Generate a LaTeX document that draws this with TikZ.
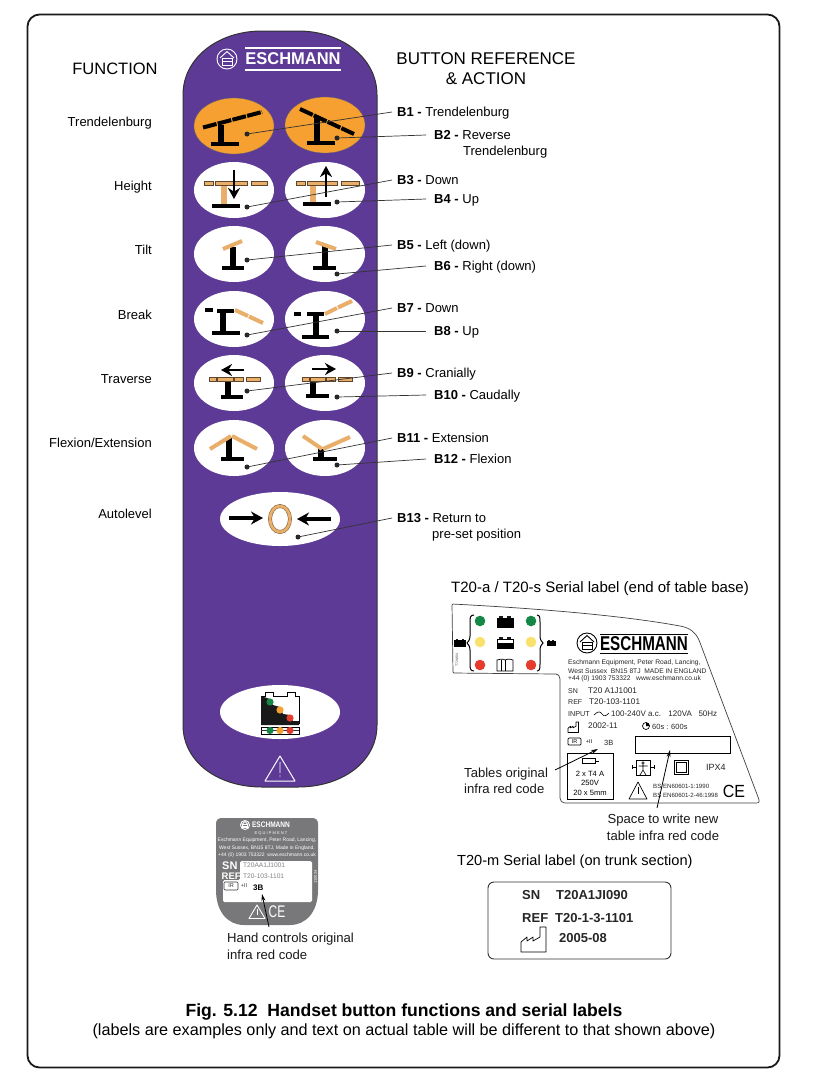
\documentclass[tikz,border=0pt]{standalone}
\usepackage{fontspec}
\setmainfont{Liberation Sans}
\usetikzlibrary{arrows.meta,calc}
\definecolor{panel}{RGB}{93,58,150}
\definecolor{orng}{RGB}{245,160,48}
\definecolor{tan}{RGB}{232,174,106}
\definecolor{lblgrey}{RGB}{120,120,122}
\definecolor{grn}{RGB}{20,135,70}
\definecolor{yel}{RGB}{250,225,110}
\definecolor{rd}{RGB}{230,60,45}
\newcommand{\fs}[1]{\fontsize{#1}{#1}\selectfont}
\tikzset{
 x=1pt,y=-1pt,
 btn/.style={draw=none,fill=white},
 blk/.style={draw=black,line width=4pt},
 stem/.style={draw=black,line width=6pt},
 tanbar/.style={draw=tan,line width=4pt},
 lead/.style={draw=black!80,line width=.7pt},
 ptr/.style={draw=black,line width=.8pt,-{Stealth[length=7pt,width=4pt]}},
 dot/.style={fill=black!85,draw=none},
 llab/.style={font=\fs{13},anchor=west,inner ysep=0pt,inner xsep=5pt,text height=11pt,text depth=1.5pt},
 rlab/.style={font=\fs{13},anchor=west,inner ysep=0pt,inner xsep=8pt,text height=11pt,text depth=1.5pt},
 txt/.style={font=\fs{13},anchor=west,inner sep=0pt,text height=11pt,text depth=1.5pt},
 func/.style={font=\fs{13},anchor=east,inner sep=0pt,text height=11pt,text depth=1.5pt},
 head/.style={font=\fs{16.5},inner sep=0pt,align=center},
 tiny/.style={font=\fs{6.7},anchor=west,inner sep=0pt,text=black!85},
 small/.style={font=\fs{8.2},anchor=west,inner sep=0pt,text=black!85},
 note/.style={font=\fs{13.1},anchor=west,inner sep=0pt,text=black!90,text height=11pt,text depth=1.5pt},
 seg/.style={draw=black!60!tan,fill=tan,line width=.3pt},
 arr/.style={draw=black,line width=2.8pt,-{Stealth[length=11pt,width=12pt]}},
}
\newcommand{\logomark}[4]{%
 \begin{scope}[shift={(#1,#2)},draw=#4,line width=.9pt]
  \draw (0,0) circle (#3);
  \draw (-.7*#3,-.1*#3) -- (0,-.75*#3) -- (.7*#3,-.1*#3);
  \draw (-.5*#3,-.1*#3) rectangle (.5*#3,.65*#3);
  \draw (-.5*#3,.25*#3) -- (.5*#3,.25*#3);
 \end{scope}}
\newcommand{\batt}[4]{%
 \begin{scope}[shift={(#1,#2)}]
  \fill[black!90] (-.7*#3,-.75*#3) rectangle (-.3*#3,-.4*#3);
  \fill[black!90] (.3*#3,-.75*#3) rectangle (.7*#3,-.4*#3);
  \filldraw[draw=black,fill=#4,line width=.6pt] (-#3,-.5*#3) rectangle (#3,.65*#3);
 \end{scope}}
\newcommand{\factory}[3]{%
 \begin{scope}[shift={(#1,#2)},scale=#3]
  \draw[line width=.7pt,black,line join=round] (0,25) -- (0,15) -- (6,10) -- (6,14) -- (12,10) -- (12,14) -- (19,10) -- (19,0) -- (25,0) -- (25,25) -- cycle;
 \end{scope}}
\begin{document}
\begin{tikzpicture}
\useasboundingbox (0,0) rectangle (820,1080);
\fill[white] (0,0) rectangle (820,1080);
\draw[line width=1.8pt,rounded corners=12pt,black!90] (27.5,14.5) rectangle (779.5,1067.5);

% ---- handset panel
\path[fill=panel,draw=black!80,line width=1pt]
 (183,95) .. controls (183,58) and (218,31) .. (262,31) -- (298,31)
 .. controls (342,31) and (377,58) .. (377,95)
 -- (377,725) .. controls (377,762) and (342,787) .. (298,787) -- (262,787)
 .. controls (218,787) and (183,762) .. (183,725) -- cycle;
\logomark{227}{59}{10}{white}
\node[inner sep=0pt,text=white] (panellogo) at (293,59) {\fs{17}\textbf{\scalebox{.97}[1]{ESCHMANN}}};
\fill[white] (245,47) rectangle (341,49);
\fill[white] (245,68.5) rectangle (341,70.5);

% ---- buttons
\fill[orng,draw=black!60,line width=.3pt] (234,126) ellipse (40 and 28);
\fill[orng,draw=black!60,line width=.3pt] (325,125) ellipse (40 and 28);
\foreach \cy in {190,254,319,383,448}{
 \fill[btn] (234,\cy) ellipse (40 and 28);
 \fill[btn] (325,\cy) ellipse (40 and 28);
}
\fill[btn] (280,519) ellipse (60 and 27);
\fill[btn] (280,712) ellipse (60 and 27);

% B1
\begin{scope}[shift={(234,126)}]
 \draw[blk] (-23,18) -- (5,18);
 \draw[stem] (-13,-1) -- (-13,18);
 \draw[black,line width=4pt,dash pattern=on 14pt off 1.2pt] (-31,1.5) -- (28,-14);
\end{scope}
% B2
\begin{scope}[shift={(325,125)}]
 \draw[blk] (-18,18) -- (10,18);
 \draw[stem] (-8,-8) -- (-8,18);
 \draw[black,line width=4pt,dash pattern=on 14pt off 1.2pt] (-25,-16) -- (29,9);
\end{scope}
% B3
\begin{scope}[shift={(234,190)}]
 \fill[tan] (-13,-7) rectangle (-7,14);
 \foreach \a/\b in {-30/-21,-19/13,17/33}{\filldraw[seg] (\a,-9) rectangle (\b,-5);}
 \draw[blk] (-22,16) -- (6,16);
 \draw[arr] (0,-20) -- (0,9);
\end{scope}
% B4
\begin{scope}[shift={(325,190)}]
 \fill[tan] (-15,-7) rectangle (-9,12);
 \foreach \a/\b in {-29/-20,-18/12,16/34}{\filldraw[seg] (\a,-9) rectangle (\b,-5);}
 \draw[blk] (-22,14) -- (6,14);
 \draw[arr] (1,7) -- (1,-24);
\end{scope}
% B5
\begin{scope}[shift={(234,254)}]
 \draw[stem] (-1,-7) -- (-1,14);
 \draw[blk] (-12,14) -- (10,14);
 \draw[tanbar] (-11,-5) -- (8,-13);
\end{scope}
% B6
\begin{scope}[shift={(325,254)}]
 \draw[stem] (0,-8) -- (0,14);
 \draw[blk] (-12,14) -- (11,14);
 \draw[tanbar] (-9,-12) -- (11,-5);
\end{scope}
% B7
\begin{scope}[shift={(234,319)}]
 \draw[blk] (-29,-9) -- (-21,-9);
 \draw[blk] (-17,-8) -- (0,-8);
 \draw[stem] (-11,-8) -- (-11,14);
 \draw[blk] (-22,14) -- (6,14);
 \draw[tanbar] (1,-9) -- (14,-3);
 \draw[tanbar] (15,-2.5) -- (29,4);
\end{scope}
% B8
\begin{scope}[shift={(325,319)}]
 \draw[blk] (-31,-5) -- (-24,-5);
 \draw[blk] (-18,-5) -- (-1,-5);
 \draw[stem] (-9,-5) -- (-9,17);
 \draw[blk] (-23,18) -- (4,18);
 \draw[tanbar] (0,-5) -- (12,-11);
 \draw[tanbar] (13,-11.5) -- (27,-18);
\end{scope}
% B9
\begin{scope}[shift={(234,383)}]
 \draw[stem] (-6,-4) -- (-6,14);
 \draw[blk] (-13,14) -- (9,14);
 \filldraw[seg] (-25,-6) rectangle (-18,-2);
 \filldraw[seg] (-17,-6) rectangle (-1,-2);
 \filldraw[seg] (0,-6) rectangle (9,-2);
 \filldraw[seg] (12,-6) rectangle (26,-2);
 \draw[arr] (10,-13) -- (-13,-13);
\end{scope}
% B10
\begin{scope}[shift={(325,383)}]
 \draw[stem] (-12,-4) -- (-12,13);
 \draw[blk] (-19,13) -- (4,13);
 \filldraw[seg] (-23,-6) rectangle (-16,-2);
 \filldraw[seg] (-15,-6) rectangle (0,-2);
 \filldraw[seg] (1,-6) rectangle (10,-2);
 \filldraw[seg] (13,-6) rectangle (27,-2);
 \draw[arr] (-13,-14) -- (11,-14);
\end{scope}
% B11
\begin{scope}[shift={(234,448)}]
 \draw[stem] (-5,-11) -- (-5,11);
 \draw[blk,line width=3.5pt] (-13,11) -- (10,11);
 \draw[tanbar] (-24,1) -- (-3,-12);
 \draw[tanbar] (-2,-12) -- (23,1);
\end{scope}
% B12
\begin{scope}[shift={(325,448)}]
 \draw[stem] (-4,1) -- (-4,11);
 \draw[blk] (-12,11) -- (12,11);
 \draw[tanbar] (-22,-12) -- (-3,1);
 \draw[tanbar] (-2,1) -- (25,-11);
\end{scope}
% B13
\begin{scope}[shift={(280,519)}]
 \draw[arr,line width=3.4pt,-{Stealth[length=12pt,width=13pt]}] (-51,-1) -- (-17,-1);
 \draw[arr,line width=3.4pt,-{Stealth[length=12pt,width=13pt]}] (51,0) -- (17,0);
 \draw[draw=black!50!tan,line width=3.8pt] (0,0) ellipse (10 and 13);
 \draw[draw=tan,line width=2.8pt] (0,0) ellipse (10 and 13);
\end{scope}
% battery button
\begin{scope}[shift={(280,712)}]
 \draw[black,line width=.6pt] (-19,-16) -- (-15,-16) -- (-15,-20) -- (-7,-20) -- (-7,-16) -- (7,-16) -- (7,-20) -- (15,-20) -- (15,-16) -- (19,-16) -- (19,12);
 \fill[black!90] (-19,-16) -- (-19,13) -- (19,13) -- (19,9) -- (13,9) -- (10,3) -- (3,2) -- (0,-5) -- (-7,-7) -- (-10,-13) -- cycle;
 \fill[grn] (-10,-10) circle (3.6);
 \fill[orng] (0,-2) circle (3.6);
 \fill[rd] (10,6) circle (3.6);
 \draw[black,line width=.7pt] (-19,15) rectangle (19,22);
 \draw[black!80,line width=.6pt] (-19,18.5) -- (19,18.5);
 \fill[grn] (-10,18.5) circle (3.6);
 \fill[orng] (0,18.5) circle (3.6);
 \fill[rd] (10,18.5) circle (3.6);
\end{scope}
% warning triangle
\draw[white,line width=1pt,line join=round] (280,756) -- (295,781) -- (265,781) -- cycle;
\fill[white] (279.5,762) -- (280.5,762) -- (280.4,773) -- (279.6,773) -- cycle;
\fill[white] (280,776) circle (.7);

% ---- dots (named)
\foreach \n/\x/\y in {d1/247/134,d2/337/138,d3/247/207,d4/337/202,d5/247/260,d6/337/274,d7/247/335,d8/337/331,d9/247/391,d10/337/397,d11/247/467,d12/337/465,d13/298/537}{
 \coordinate (\n) at (\x,\y);
 \fill[dot] (\x,\y) circle (2.5);
}
% ---- labels
\node[llab] (l1) at (392,112) {\textbf{B1 -} Trendelenburg};
\node[rlab] (l2) at (426,135) {\textbf{B2 -} Reverse};
\node[txt] (l2b) at (463,151) {Trendelenburg};
\node[llab] (l3) at (392,180) {\textbf{B3 -} Down};
\node[rlab] (l4) at (426,199) {\textbf{B4 -} Up};
\node[llab] (l5) at (392,245) {\textbf{B5 -} Left (down)};
\node[rlab] (l6) at (426,266) {\textbf{B6 -} Right (down)};
\node[llab] (l7) at (392,308) {\textbf{B7 -} Down};
\node[rlab] (l8) at (426,331) {\textbf{B8 -} Up};
\node[llab] (l9) at (392,373) {\textbf{B9 -} Cranially};
\node[rlab] (l10) at (426,395) {\textbf{B10 -} Caudally};
\node[llab] (l11) at (392,438) {\textbf{B11 -} Extension};
\node[rlab] (l12) at (426,459) {\textbf{B12 -} Flexion};
\node[llab] (l13) at (392,518) {\textbf{B13 -} Return to};
\node[txt] (l13b) at (432,534) {pre-set position};
\foreach \i in {1,...,13}{\draw[lead] (d\i) -- (l\i.west);}

\node[head] (hfunc) at (115,69) {FUNCTION};
\node[head,font=\fs{17}] (hbtn) at (486,69) {BUTTON REFERENCE\\[3pt]\& ACTION};
\node[func] (f1) at (152,122) {Trendelenburg};
\node[func] (f2) at (152,186) {Height};
\node[func] (f3) at (152,250) {Tilt};
\node[func] (f4) at (152,315) {Break};
\node[func] (f5) at (152,379) {Traverse};
\node[func] (f6) at (152,443) {Flexion/Extension};
\node[func] (f7) at (152,514) {Autolevel};

% ---- hand control label
\path[fill=lblgrey] (222,818) -- (312,818) .. controls (316,818) and (318,820) .. (318,824)
 -- (318,890) .. controls (318,912) and (306,925) .. (290,925) -- (244,925)
 .. controls (228,925) and (216,912) .. (216,890) -- (216,824) .. controls (216,820) and (218,818) .. (222,818) -- cycle;
\fill[white,rounded corners=1.5pt] (240,861) -- (312,861) -- (312,902) -- (223,902) -- (223,880) -- (240,880) -- cycle;
\logomark{245}{825}{4.5}{white}
\node[inner sep=0pt,text=white] (hlogo) at (271,825) {\fs{8}\textbf{\scalebox{.82}[1]{ESCHMANN}}};
\node[inner sep=0pt,text=white,font=\fs{4}] (hequip) at (271,833) {E Q U I P M E N T};
\node[inner sep=0pt,text=white,align=center,font=\fontsize{5}{7.5}\selectfont] (haddr) at (267,848) {Eschmann Equipment, Peter Road, Lancing,\\West Sussex, BN15 8TJ, Made in England.\\+44 (0) 1903 753322 \ www.eschmann.co.uk};
\node[inner sep=0pt,text=white,anchor=west,font=\fs{11}\bfseries] (hsn) at (222,866) {SN};
\node[inner sep=0pt,text=white,anchor=west,font=\fs{9.5}\bfseries] (href) at (221.5,876) {REF};
\node[inner sep=0pt,text=black!50,anchor=west,font=\fs{6.6}] (hsnv) at (243,865) {T20AA1J1001};
\node[inner sep=0pt,text=black!50,anchor=west,font=\fs{6.6}] (hrefv) at (243,876) {T20-103-1101};
\draw[black!80,line width=.6pt,rounded corners=1pt] (224,882) rectangle (238,890);
\node[inner sep=0pt,text=black!80,font=\fs{5.5}] (hir) at (231,886) {IR};
\node[inner sep=0pt,text=black!80,font=\fs{5.5}] (hirb) at (244,885.5) {+II};
\node[inner sep=0pt,text=black,anchor=west,font=\fs{8}\bfseries] (h3b) at (253,888) {3B};
\node[inner sep=0pt,text=white,rotate=90,font=\fs{4}] (hcode) at (315.5,877) {110024};
\draw[white,line width=.9pt,line join=round] (257,905) -- (265,918.5) -- (249,918.5) -- cycle;
\fill[white] (256.6,909) rectangle (257.4,915);
\node[inner sep=0pt,text=white] (hce) at (277,912) {\fs{12}\scalebox{1}[1.4]{CE}};
\draw[ptr] (269,927) -- (262,894);
\node[note] (hnote) at (227,938) {Hand controls original};
\node[note] (hnote2) at (227,955) {infra red code};

% ---- T20-a label
\node[inner sep=0pt,font=\fs{15}] (t1) at (600,589) {T20-a / T20-s Serial label (end of table base)};
\draw[black!75,line width=.7pt,line join=round,rounded corners=1pt]
 (452,604) .. controls (530,608) and (620,615) .. (680,626) .. controls (690,628) and (695,632) .. (699,640)
 -- (758,797) .. controls (760,802) and (759,803) .. (755,803) -- (566,803)
 .. controls (562,803) and (560,801) .. (560,797) -- (560,680) .. controls (560,676) and (558,674) .. (555,674)
 -- (453,673) -- cycle;
\draw[black,line width=1pt] (474,615) .. controls (470,615) and (470,618) .. (470,622) -- (470,636) .. controls (470,640) and (468,642) .. (467,643) .. controls (468,644) and (470,646) .. (470,650) -- (470,664) .. controls (470,668) and (470,671) .. (474,671);
\draw[black,line width=1pt] (537,615) .. controls (540,615) and (540,618) .. (540,622) -- (540,636) .. controls (540,640) and (542,642) .. (543,643) .. controls (542,644) and (540,646) .. (540,650) -- (540,664) .. controls (540,668) and (540,671) .. (537,671);
\foreach \x in {480,531}{
 \fill[grn] (\x,621) circle (5.3);
 \fill[yel] (\x,642) circle (5.3);
 \fill[rd] (\x,665) circle (5.3);
}
\batt{505}{622}{8}{black}
\batt{505}{643}{8}{white}
\fill[black] (497,643) rectangle (513,648);
\draw[black,line width=.7pt] (497,660) .. controls (503,658) and (505,660) .. (505,660) .. controls (505,660) and (509,658) .. (513,660) -- (513,671) -- (497,671) -- cycle;
\draw[black,line width=.7pt] (505,660) -- (505,671);
\draw[black,line width=.7pt] (501,659.5) -- (501,671);
\batt{460}{643}{5.5}{black}
\batt{551}{643}{4}{black}
\node[inner sep=0pt,rotate=90,text=black!70,font=\fs{3.5}] (tcode) at (457,660) {T71M04};
\logomark{587}{643}{10}{black}
\node[inner sep=0pt] (tlogo) at (644,644) {\fs{20}\textbf{\scalebox{.76}[1]{ESCHMANN}}};
\fill[black] (600,633.5) rectangle (688,635);
\fill[black] (600,652.5) rectangle (688,654);
\node[tiny] (a1) at (568,663) {Eschmann Equipment, Peter Road, Lancing,};
\node[tiny] (a2) at (568,671) {West Sussex \ BN15 8TJ \ MADE IN ENGLAND};
\node[tiny] (a3) at (568,678.5) {+44 (0) 1903 753322 \ \ www.eschmann.co.uk};
\node[small,font=\fs{7}] (s1) at (568,691) {SN};
\node[small] (s2) at (588,691) {T20 A1J1001};
\node[small,font=\fs{7}] (s3) at (568,702) {REF};
\node[small] (s4) at (589,702) {T20-103-1101};
\node[small,font=\fs{7.2}] (s5) at (568,714) {INPUT};
\draw[black,line width=.6pt] (594,715) .. controls (598,711) and (600,711) .. (602,714) .. controls (604,717) and (606,716) .. (609,713);
\node[small,font=\fs{8}] (s6) at (611,714) {100-240V a.c. \ \ 120VA \ \ 50Hz};
\factory{568}{722}{.42}
\node[small] (s7) at (588,726) {2002-11};
\draw[black,line width=.7pt] (646,726) circle (3.5);
\fill[black] (646,726) -- (646,722.5) arc (-90:0:3.5) -- cycle;
\node[small,font=\fs{7.5}] (s8) at (652,727) {60s : 600s};
\draw[black,line width=.7pt,rounded corners=1pt] (568,738) rectangle (581,745);
\node[inner sep=0pt,font=\fs{5.5}] (s9) at (574.5,741.5) {IR};
\node[inner sep=0pt,font=\fs{5.5}] (s10) at (589,741.5) {+II};
\node[small,font=\fs{7.5}] (s11) at (604,743) {3B};
\node[draw=black,line width=.8pt,minimum width=95pt,minimum height=17pt,inner sep=0pt] (wbox) at (682.5,744.5) {};
\node[draw=black,line width=.8pt,minimum width=46pt,minimum height=46pt,inner sep=0pt] (fbox) at (590,776) {};
\draw[black,line width=.6pt] (582,761) -- (599,761);
\draw[black,line width=.6pt,fill=white] (582,758.5) rectangle (595,763.5);
\node[inner sep=0pt,align=center,font=\fontsize{7.6}{9.4}\selectfont] (ftext) at (590,783) {2 x T4 A\\250V\\20 x 5mm};
\draw[black,line width=.7pt] (636,760) rectangle (650,775);
\draw[black,line width=.6pt] (643,763) circle (1.3) (643,764.5) -- (643,770) -- (640,775) (643,770) -- (646,775) (638.5,766) -- (647.5,766);
\draw[black,line width=.8pt] (632,767) -- (636,767) (650,767) -- (654,767) (632,765) -- (632,769) (654,765) -- (654,769);
\draw[black,line width=.7pt] (676,762) rectangle (686,772);
\draw[black,line width=.7pt] (674,760) rectangle (688,774);
\node[small,font=\fs{9}] (ipx) at (706,767) {IPX4};
\draw[black,line width=.7pt,line join=round] (638,782) -- (647,799) -- (629,799) -- cycle;
\fill[black] (637.5,787) rectangle (638.5,794);
\node[tiny,font=\fs{6.1}] (b1) at (653,786) {BS EN60601-1:1990};
\node[tiny,font=\fs{6.1}] (b2) at (653,795) {BS EN60601-2-46:1998};
\node[inner sep=0pt] (ce) at (734,791) {\fs{16}\scalebox{1}[1.1]{CE}};
\draw[ptr] (555,770) -- (598,749);
\draw[ptr] (657,808) -- (670,750);
\node[note] (n1) at (464,773) {Tables original};
\node[note] (n2) at (464,789) {infra red code};
\node[inner sep=0pt,font=\fs{13.1},text=black!90,text height=11pt,text depth=1.5pt] (n3) at (663,819) {Space to write new};
\node[inner sep=0pt,font=\fs{13.1},text=black!90,text height=11pt,text depth=1.5pt] (n4) at (663,836) {table infra red code};

% ---- T20-m label
\node[inner sep=0pt,font=\fs{14.6},anchor=west] (t2) at (457,862) {T20-m Serial label (on trunk section)};
\draw[black!80,line width=.9pt,rounded corners=6pt] (488,882) rectangle (671,959);
\node[txt,font=\fs{13}\bfseries,text=black!85] (m1) at (522,895) {SN};
\node[txt,font=\fs{13}\bfseries,text=black!85] (m2) at (556,895) {T20A1JI090};
\node[txt,font=\fs{13}\bfseries,text=black!85] (m3) at (522,918) {REF};
\node[txt,font=\fs{13}\bfseries,text=black!85] (m4) at (555,918) {T20-1-3-1101};
\factory{521}{927}{1}
\node[txt,font=\fs{13}\bfseries,text=black!85] (m5) at (559,938) {2005-08};

% ---- caption
\node[inner sep=0pt,font=\fs{17.6}\bfseries] (cap1) at (404,1012) {Fig. 5.12 \ Handset button functions and serial labels};
\node[inner sep=0pt,font=\fs{16.2}] (cap2) at (404,1031) {(labels are examples only and text on actual table will be different to that shown above)};
\end{tikzpicture}
\end{document}
